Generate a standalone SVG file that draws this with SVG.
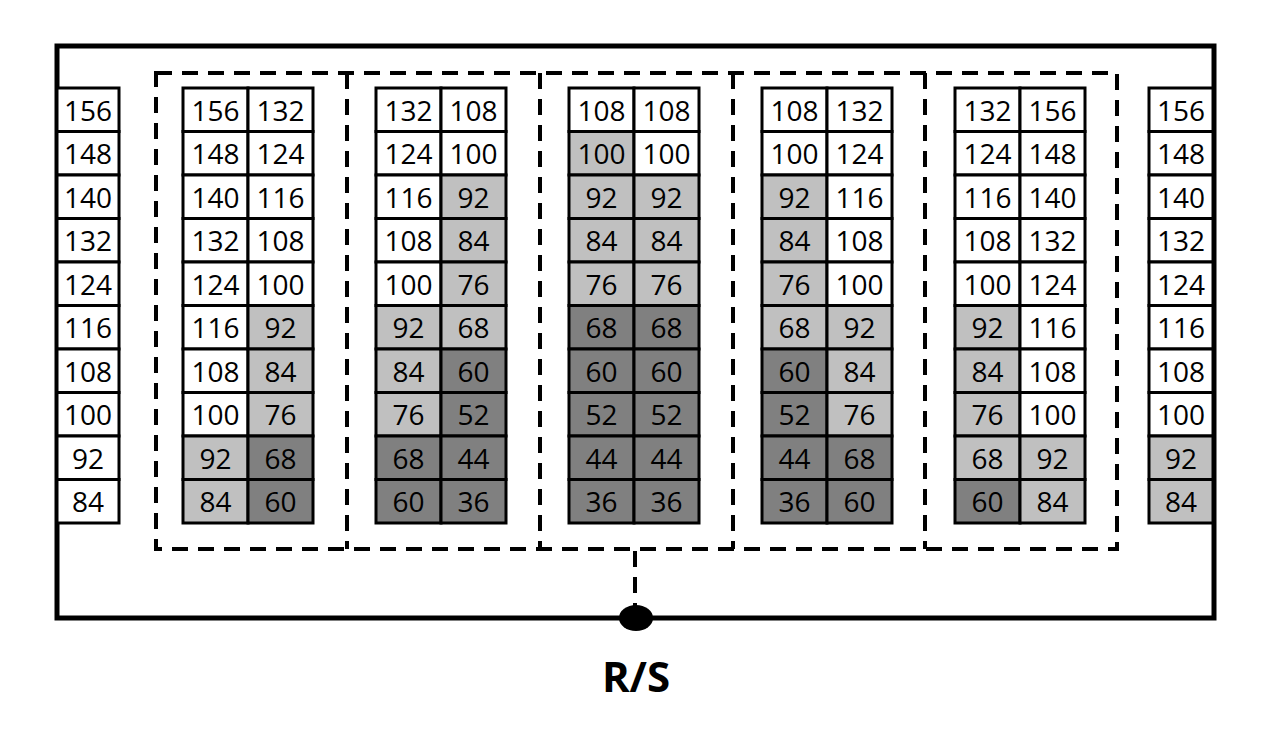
<svg xmlns="http://www.w3.org/2000/svg" width="1264" height="736" viewBox="0 0 1264 736">
<style>
rect.c{stroke:#000;stroke-width:3}
.w{fill:#fff}.l{fill:#c0c0c0}.d{fill:#808080}
text{font-family:"Open Sans","Liberation Sans",sans-serif;font-size:28px;text-anchor:middle;fill:#000}
.dash{fill:none;stroke:#000;stroke-width:4;stroke-dasharray:16,10}
</style>
<rect width="1264" height="736" fill="#fff"/>
<rect id="frame" x="57" y="46" width="1157" height="572" fill="none" stroke="#000" stroke-width="5"/>
<g id="connectors">
<rect class="dash" x="156" y="73" width="961" height="476"/>
<line class="dash" x1="347" y1="73" x2="347" y2="549"/>
<line class="dash" x1="540" y1="73" x2="540" y2="549"/>
<line class="dash" x1="733" y1="73" x2="733" y2="549"/>
<line class="dash" x1="925" y1="73" x2="925" y2="549"/>
<line class="dash" x1="635" y1="551" x2="635" y2="606"/>
</g>
<g id="rs"><ellipse cx="636" cy="618" rx="17" ry="13" fill="#000"/>
<text x="636" y="692" style="font-size:42px;font-weight:bold">R/S</text></g>
<g id="col0">
<rect class="c w" x="57" y="88" width="62" height="43.5"/><text x="88" y="120.5">156</text>
<rect class="c w" x="57" y="131.5" width="62" height="43.5"/><text x="88" y="164">148</text>
<rect class="c w" x="57" y="175" width="62" height="43.5"/><text x="88" y="207.5">140</text>
<rect class="c w" x="57" y="218.5" width="62" height="43.5"/><text x="88" y="251">132</text>
<rect class="c w" x="57" y="262" width="62" height="43.5"/><text x="88" y="294.5">124</text>
<rect class="c w" x="57" y="305.5" width="62" height="43.5"/><text x="88" y="338">116</text>
<rect class="c w" x="57" y="349" width="62" height="43.5"/><text x="88" y="381.5">108</text>
<rect class="c w" x="57" y="392.5" width="62" height="43.5"/><text x="88" y="425">100</text>
<rect class="c w" x="57" y="436" width="62" height="43.5"/><text x="88" y="468.5">92</text>
<rect class="c w" x="57" y="479.5" width="62" height="43.5"/><text x="88" y="512">84</text>
</g>
<g id="col1">
<rect class="c w" x="183" y="88" width="65" height="43.5"/><text x="215.5" y="120.5">156</text>
<rect class="c w" x="183" y="131.5" width="65" height="43.5"/><text x="215.5" y="164">148</text>
<rect class="c w" x="183" y="175" width="65" height="43.5"/><text x="215.5" y="207.5">140</text>
<rect class="c w" x="183" y="218.5" width="65" height="43.5"/><text x="215.5" y="251">132</text>
<rect class="c w" x="183" y="262" width="65" height="43.5"/><text x="215.5" y="294.5">124</text>
<rect class="c w" x="183" y="305.5" width="65" height="43.5"/><text x="215.5" y="338">116</text>
<rect class="c w" x="183" y="349" width="65" height="43.5"/><text x="215.5" y="381.5">108</text>
<rect class="c w" x="183" y="392.5" width="65" height="43.5"/><text x="215.5" y="425">100</text>
<rect class="c l" x="183" y="436" width="65" height="43.5"/><text x="215.5" y="468.5">92</text>
<rect class="c l" x="183" y="479.5" width="65" height="43.5"/><text x="215.5" y="512">84</text>
</g>
<g id="col2">
<rect class="c w" x="248" y="88" width="65" height="43.5"/><text x="280.5" y="120.5">132</text>
<rect class="c w" x="248" y="131.5" width="65" height="43.5"/><text x="280.5" y="164">124</text>
<rect class="c w" x="248" y="175" width="65" height="43.5"/><text x="280.5" y="207.5">116</text>
<rect class="c w" x="248" y="218.5" width="65" height="43.5"/><text x="280.5" y="251">108</text>
<rect class="c w" x="248" y="262" width="65" height="43.5"/><text x="280.5" y="294.5">100</text>
<rect class="c l" x="248" y="305.5" width="65" height="43.5"/><text x="280.5" y="338">92</text>
<rect class="c l" x="248" y="349" width="65" height="43.5"/><text x="280.5" y="381.5">84</text>
<rect class="c l" x="248" y="392.5" width="65" height="43.5"/><text x="280.5" y="425">76</text>
<rect class="c d" x="248" y="436" width="65" height="43.5"/><text x="280.5" y="468.5">68</text>
<rect class="c d" x="248" y="479.5" width="65" height="43.5"/><text x="280.5" y="512">60</text>
</g>
<g id="col3">
<rect class="c w" x="376" y="88" width="65" height="43.5"/><text x="408.5" y="120.5">132</text>
<rect class="c w" x="376" y="131.5" width="65" height="43.5"/><text x="408.5" y="164">124</text>
<rect class="c w" x="376" y="175" width="65" height="43.5"/><text x="408.5" y="207.5">116</text>
<rect class="c w" x="376" y="218.5" width="65" height="43.5"/><text x="408.5" y="251">108</text>
<rect class="c w" x="376" y="262" width="65" height="43.5"/><text x="408.5" y="294.5">100</text>
<rect class="c l" x="376" y="305.5" width="65" height="43.5"/><text x="408.5" y="338">92</text>
<rect class="c l" x="376" y="349" width="65" height="43.5"/><text x="408.5" y="381.5">84</text>
<rect class="c l" x="376" y="392.5" width="65" height="43.5"/><text x="408.5" y="425">76</text>
<rect class="c d" x="376" y="436" width="65" height="43.5"/><text x="408.5" y="468.5">68</text>
<rect class="c d" x="376" y="479.5" width="65" height="43.5"/><text x="408.5" y="512">60</text>
</g>
<g id="col4">
<rect class="c w" x="441" y="88" width="65" height="43.5"/><text x="473.5" y="120.5">108</text>
<rect class="c w" x="441" y="131.5" width="65" height="43.5"/><text x="473.5" y="164">100</text>
<rect class="c l" x="441" y="175" width="65" height="43.5"/><text x="473.5" y="207.5">92</text>
<rect class="c l" x="441" y="218.5" width="65" height="43.5"/><text x="473.5" y="251">84</text>
<rect class="c l" x="441" y="262" width="65" height="43.5"/><text x="473.5" y="294.5">76</text>
<rect class="c l" x="441" y="305.5" width="65" height="43.5"/><text x="473.5" y="338">68</text>
<rect class="c d" x="441" y="349" width="65" height="43.5"/><text x="473.5" y="381.5">60</text>
<rect class="c d" x="441" y="392.5" width="65" height="43.5"/><text x="473.5" y="425">52</text>
<rect class="c d" x="441" y="436" width="65" height="43.5"/><text x="473.5" y="468.5">44</text>
<rect class="c d" x="441" y="479.5" width="65" height="43.5"/><text x="473.5" y="512">36</text>
</g>
<g id="col5">
<rect class="c w" x="569" y="88" width="65" height="43.5"/><text x="601.5" y="120.5">108</text>
<rect class="c l" x="569" y="131.5" width="65" height="43.5"/><text x="601.5" y="164">100</text>
<rect class="c l" x="569" y="175" width="65" height="43.5"/><text x="601.5" y="207.5">92</text>
<rect class="c l" x="569" y="218.5" width="65" height="43.5"/><text x="601.5" y="251">84</text>
<rect class="c l" x="569" y="262" width="65" height="43.5"/><text x="601.5" y="294.5">76</text>
<rect class="c d" x="569" y="305.5" width="65" height="43.5"/><text x="601.5" y="338">68</text>
<rect class="c d" x="569" y="349" width="65" height="43.5"/><text x="601.5" y="381.5">60</text>
<rect class="c d" x="569" y="392.5" width="65" height="43.5"/><text x="601.5" y="425">52</text>
<rect class="c d" x="569" y="436" width="65" height="43.5"/><text x="601.5" y="468.5">44</text>
<rect class="c d" x="569" y="479.5" width="65" height="43.5"/><text x="601.5" y="512">36</text>
</g>
<g id="col6">
<rect class="c w" x="634" y="88" width="65" height="43.5"/><text x="666.5" y="120.5">108</text>
<rect class="c w" x="634" y="131.5" width="65" height="43.5"/><text x="666.5" y="164">100</text>
<rect class="c l" x="634" y="175" width="65" height="43.5"/><text x="666.5" y="207.5">92</text>
<rect class="c l" x="634" y="218.5" width="65" height="43.5"/><text x="666.5" y="251">84</text>
<rect class="c l" x="634" y="262" width="65" height="43.5"/><text x="666.5" y="294.5">76</text>
<rect class="c d" x="634" y="305.5" width="65" height="43.5"/><text x="666.5" y="338">68</text>
<rect class="c d" x="634" y="349" width="65" height="43.5"/><text x="666.5" y="381.5">60</text>
<rect class="c d" x="634" y="392.5" width="65" height="43.5"/><text x="666.5" y="425">52</text>
<rect class="c d" x="634" y="436" width="65" height="43.5"/><text x="666.5" y="468.5">44</text>
<rect class="c d" x="634" y="479.5" width="65" height="43.5"/><text x="666.5" y="512">36</text>
</g>
<g id="col7">
<rect class="c w" x="762" y="88" width="65" height="43.5"/><text x="794.5" y="120.5">108</text>
<rect class="c w" x="762" y="131.5" width="65" height="43.5"/><text x="794.5" y="164">100</text>
<rect class="c l" x="762" y="175" width="65" height="43.5"/><text x="794.5" y="207.5">92</text>
<rect class="c l" x="762" y="218.5" width="65" height="43.5"/><text x="794.5" y="251">84</text>
<rect class="c l" x="762" y="262" width="65" height="43.5"/><text x="794.5" y="294.5">76</text>
<rect class="c l" x="762" y="305.5" width="65" height="43.5"/><text x="794.5" y="338">68</text>
<rect class="c d" x="762" y="349" width="65" height="43.5"/><text x="794.5" y="381.5">60</text>
<rect class="c d" x="762" y="392.5" width="65" height="43.5"/><text x="794.5" y="425">52</text>
<rect class="c d" x="762" y="436" width="65" height="43.5"/><text x="794.5" y="468.5">44</text>
<rect class="c d" x="762" y="479.5" width="65" height="43.5"/><text x="794.5" y="512">36</text>
</g>
<g id="col8">
<rect class="c w" x="827" y="88" width="65" height="43.5"/><text x="859.5" y="120.5">132</text>
<rect class="c w" x="827" y="131.5" width="65" height="43.5"/><text x="859.5" y="164">124</text>
<rect class="c w" x="827" y="175" width="65" height="43.5"/><text x="859.5" y="207.5">116</text>
<rect class="c w" x="827" y="218.5" width="65" height="43.5"/><text x="859.5" y="251">108</text>
<rect class="c w" x="827" y="262" width="65" height="43.5"/><text x="859.5" y="294.5">100</text>
<rect class="c l" x="827" y="305.5" width="65" height="43.5"/><text x="859.5" y="338">92</text>
<rect class="c l" x="827" y="349" width="65" height="43.5"/><text x="859.5" y="381.5">84</text>
<rect class="c l" x="827" y="392.5" width="65" height="43.5"/><text x="859.5" y="425">76</text>
<rect class="c d" x="827" y="436" width="65" height="43.5"/><text x="859.5" y="468.5">68</text>
<rect class="c d" x="827" y="479.5" width="65" height="43.5"/><text x="859.5" y="512">60</text>
</g>
<g id="col9">
<rect class="c w" x="955" y="88" width="65" height="43.5"/><text x="987.5" y="120.5">132</text>
<rect class="c w" x="955" y="131.5" width="65" height="43.5"/><text x="987.5" y="164">124</text>
<rect class="c w" x="955" y="175" width="65" height="43.5"/><text x="987.5" y="207.5">116</text>
<rect class="c w" x="955" y="218.5" width="65" height="43.5"/><text x="987.5" y="251">108</text>
<rect class="c w" x="955" y="262" width="65" height="43.5"/><text x="987.5" y="294.5">100</text>
<rect class="c l" x="955" y="305.5" width="65" height="43.5"/><text x="987.5" y="338">92</text>
<rect class="c l" x="955" y="349" width="65" height="43.5"/><text x="987.5" y="381.5">84</text>
<rect class="c l" x="955" y="392.5" width="65" height="43.5"/><text x="987.5" y="425">76</text>
<rect class="c l" x="955" y="436" width="65" height="43.5"/><text x="987.5" y="468.5">68</text>
<rect class="c d" x="955" y="479.5" width="65" height="43.5"/><text x="987.5" y="512">60</text>
</g>
<g id="col10">
<rect class="c w" x="1020" y="88" width="65" height="43.5"/><text x="1052.5" y="120.5">156</text>
<rect class="c w" x="1020" y="131.5" width="65" height="43.5"/><text x="1052.5" y="164">148</text>
<rect class="c w" x="1020" y="175" width="65" height="43.5"/><text x="1052.5" y="207.5">140</text>
<rect class="c w" x="1020" y="218.5" width="65" height="43.5"/><text x="1052.5" y="251">132</text>
<rect class="c w" x="1020" y="262" width="65" height="43.5"/><text x="1052.5" y="294.5">124</text>
<rect class="c w" x="1020" y="305.5" width="65" height="43.5"/><text x="1052.5" y="338">116</text>
<rect class="c w" x="1020" y="349" width="65" height="43.5"/><text x="1052.5" y="381.5">108</text>
<rect class="c w" x="1020" y="392.5" width="65" height="43.5"/><text x="1052.5" y="425">100</text>
<rect class="c l" x="1020" y="436" width="65" height="43.5"/><text x="1052.5" y="468.5">92</text>
<rect class="c l" x="1020" y="479.5" width="65" height="43.5"/><text x="1052.5" y="512">84</text>
</g>
<g id="col11">
<rect class="c w" x="1149" y="88" width="64" height="43.5"/><text x="1181" y="120.5">156</text>
<rect class="c w" x="1149" y="131.5" width="64" height="43.5"/><text x="1181" y="164">148</text>
<rect class="c w" x="1149" y="175" width="64" height="43.5"/><text x="1181" y="207.5">140</text>
<rect class="c w" x="1149" y="218.5" width="64" height="43.5"/><text x="1181" y="251">132</text>
<rect class="c w" x="1149" y="262" width="64" height="43.5"/><text x="1181" y="294.5">124</text>
<rect class="c w" x="1149" y="305.5" width="64" height="43.5"/><text x="1181" y="338">116</text>
<rect class="c w" x="1149" y="349" width="64" height="43.5"/><text x="1181" y="381.5">108</text>
<rect class="c w" x="1149" y="392.5" width="64" height="43.5"/><text x="1181" y="425">100</text>
<rect class="c l" x="1149" y="436" width="64" height="43.5"/><text x="1181" y="468.5">92</text>
<rect class="c l" x="1149" y="479.5" width="64" height="43.5"/><text x="1181" y="512">84</text>
</g>
</svg>
